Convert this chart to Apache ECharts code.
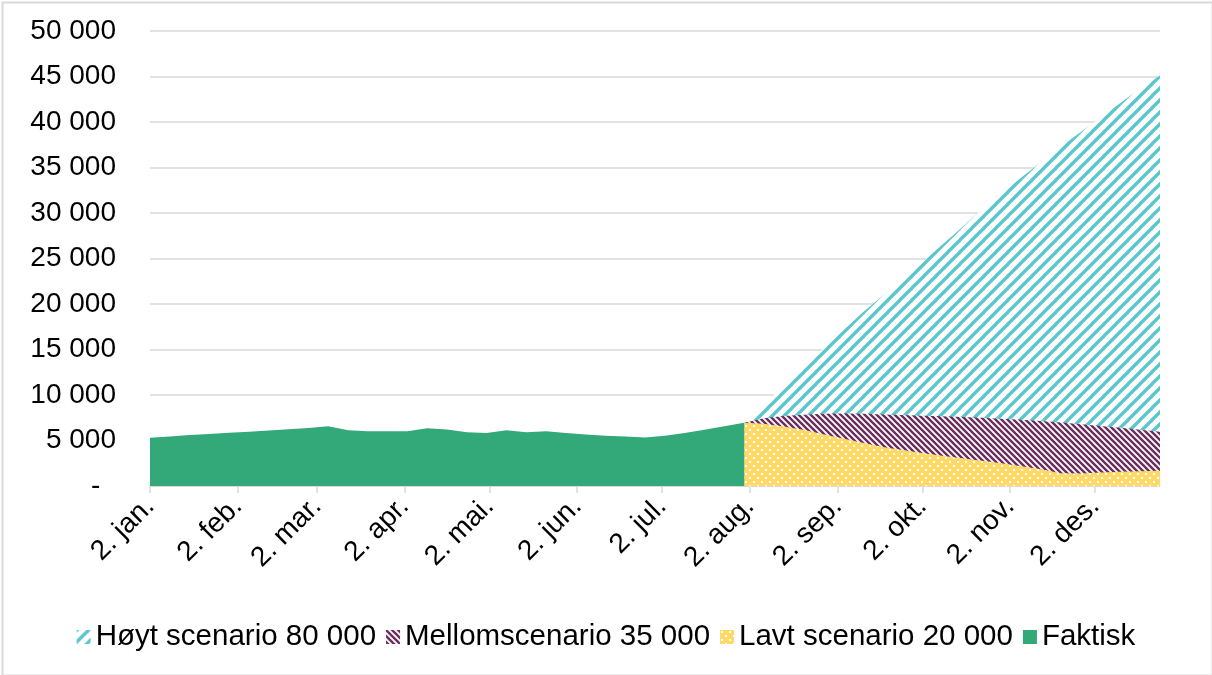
<!DOCTYPE html>
<html>
<head>
<meta charset="utf-8">
<script src="https://cdn.jsdelivr.net/npm/echarts@6/dist/echarts.min.js"></script>
<style>
html,body{margin:0;padding:0;background:#fff;}
#chart{width:1212px;height:675px;}
</style>
</head>
<body>
<div id="chart"></div>
<script>
// ---- data ----
const tickDays = [0, 31, 59, 90, 120, 151, 181, 212, 243, 273, 304, 334]; // days after 2. jan.
const tickLabels = ['2. jan.', '2. feb.', '2. mar.', '2. apr.', '2. mai.', '2. jun.', '2. jul.', '2. aug.', '2. sep.', '2. okt.', '2. nov.', '2. des.'];
const weekStep = 7;          // weekly observations, first on 2. jan.
const scenarioStartWeek = 30;
const faktisk = [5300, 5450, 5600, 5720, 5850, 5950, 6100, 6240, 6380, 6560, 6120, 6020, 6010, 6010, 6340, 6200, 5920, 5830, 6120, 5900, 6010, 5830, 5660, 5530, 5430, 5320, 5530, 5830, 6170, 6560, 6960];
const hoyt = [6960, 9000, 11000, 13100, 15100, 17100, 19100, 20900, 22700, 24600, 26500, 28400, 30400, 32200, 33900, 35600, 37300, 38900, 40500, 42100, 43700, 45100];
const mellom = [6960, 7450, 7700, 7820, 7930, 7980, 7930, 7870, 7800, 7730, 7660, 7570, 7490, 7400, 7280, 7130, 6970, 6780, 6600, 6400, 6180, 5970];
const lavt = [6960, 6830, 6550, 6180, 5700, 5220, 4750, 4280, 3950, 3620, 3320, 3060, 2780, 2490, 2180, 1850, 1400, 1380, 1470, 1570, 1630, 1680];
const seriesNames = ['Høyt scenario 80 000', 'Mellomscenario 35 000', 'Lavt scenario 20 000', 'Faktisk'];

// ---- patterns ----
function stripes(size, color, width, dir) {
  const c = document.createElement('canvas');
  c.width = size; c.height = size;
  const g = c.getContext('2d');
  g.fillStyle = '#fff'; g.fillRect(0, 0, size, size);
  g.strokeStyle = color; g.lineWidth = width; g.lineCap = 'square';
  for (let k = -1; k <= 1; k++) {
    g.beginPath();
    if (dir === '/') { g.moveTo(k * size, size); g.lineTo(k * size + size, 0); }
    else { g.moveTo(k * size, 0); g.lineTo(k * size + size, size); }
    g.stroke();
  }
  return { image: c, repeat: 'repeat' };
}
function dots(size, bg, fg) {
  const c = document.createElement('canvas');
  c.width = size; c.height = size;
  const g = c.getContext('2d');
  g.fillStyle = bg; g.fillRect(0, 0, size, size);
  g.fillStyle = fg;
  g.fillRect(1, 1, 2, 2);
  g.fillRect(1 + size / 2, 1 + size / 2, 2, 2);
  return { image: c, repeat: 'repeat' };
}
const tealPat = stripes(12, '#5bc6cc', 3.4, '/');
const purplePat = stripes(6, '#6b2c5e', 2.4, '\\');
const yellowPat = dots(8, '#ffd966', '#ffffff');
const green = '#33a878';

function pairs(arr, startWeek) {
  return arr.map((v, i) => [(startWeek + i) * weekStep, v]);
}
function areaSeries(name, data, fill) {
  return {
    name: name, type: 'line', data: data, showSymbol: false, symbol: 'none',
    lineStyle: { width: 0 }, itemStyle: { color: fill },
    areaStyle: { color: fill, opacity: 1 }, silent: true
  };
}

const chart = echarts.init(document.getElementById('chart'), null, { renderer: 'canvas' });
const font = 'Liberation Sans, Arial, sans-serif';
chart.setOption({
  animation: false,
  backgroundColor: '#fff',
  graphic: [{
    type: 'rect', left: 0, top: 0, z: 100,
    shape: { x: 1, y: 1, width: 1210, height: 673 },
    style: { fill: 'none', stroke: '#d9d9d9', lineWidth: 2 }
  }],
  grid: { left: 150, right: 52, top: 31, bottom: 189, containLabel: false },
  legend: {
    left: 'center', top: 617, icon: 'rect', itemWidth: 14, itemHeight: 14, itemGap: 10,
    textStyle: { fontFamily: font, fontSize: 29.5, color: '#000', padding: [0, 0, 0, 0] },
    data: [
      { name: seriesNames[0], itemStyle: { color: tealPat } },
      { name: seriesNames[1], itemStyle: { color: purplePat } },
      { name: seriesNames[2], itemStyle: { color: yellowPat } },
      { name: seriesNames[3], itemStyle: { color: green } }
    ]
  },
  xAxis: {
    type: 'value', min: 0, max: (scenarioStartWeek + hoyt.length - 1) * weekStep,
    axisLine: { show: true, lineStyle: { color: '#d9d9d9', width: 1.5 } },
    axisTick: { show: true, customValues: tickDays, length: 7, lineStyle: { color: '#d9d9d9', width: 1.5 } },
    splitLine: { show: false },
    axisLabel: {
      customValues: tickDays, rotate: 45, margin: 16,
      fontFamily: font, fontSize: 28, color: '#000',
      formatter: v => tickLabels[tickDays.indexOf(Math.round(v))] || ''
    }
  },
  yAxis: {
    type: 'value', min: 0, max: 50000, interval: 5000,
    axisLine: { show: false }, axisTick: { show: false },
    splitLine: { lineStyle: { color: '#d9d9d9', width: 1.5 } },
    axisLabel: {
      margin: 34, fontFamily: font, fontSize: 28, color: '#000',
      formatter: v => v === 0 ? '-  ' : String(v).replace(/\B(?=(\d{3})+(?!\d))/g, ' ')
    }
  },
  series: [
    areaSeries(seriesNames[0], pairs(hoyt, scenarioStartWeek), tealPat),
    areaSeries(seriesNames[1], pairs(mellom, scenarioStartWeek), purplePat),
    areaSeries(seriesNames[2], pairs(lavt, scenarioStartWeek), yellowPat),
    areaSeries(seriesNames[3], pairs(faktisk, 0), green)
  ]
});
</script>
</body>
</html>
